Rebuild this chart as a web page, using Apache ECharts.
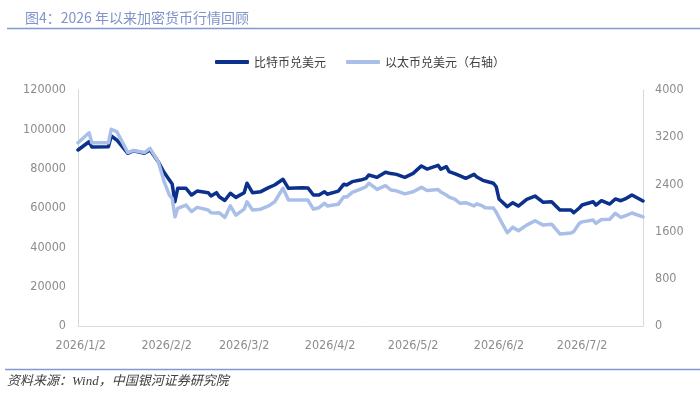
<!DOCTYPE html>
<html>
<head>
<meta charset="utf-8">
<script src="https://cdn.jsdelivr.net/npm/echarts@6/dist/echarts.min.js"></script>
<style>
  html, body { margin: 0; padding: 0; background: #fff; }
  #main { width: 700px; height: 401px; }
</style>
</head>
<body>
<div id="main"></div>
<script>
// 日期（每个点一个）
var dates = [
  '2026-01-01', '2026-01-05', '2026-01-06', '2026-01-12', '2026-01-13', '2026-01-15',
  '2026-01-19', '2026-01-21', '2026-01-25', '2026-01-27', '2026-01-30', '2026-02-01',
  '2026-02-03', '2026-02-04', '2026-02-05', '2026-02-06', '2026-02-09', '2026-02-11',
  '2026-02-13', '2026-02-17', '2026-02-18', '2026-02-20', '2026-02-21', '2026-02-23',
  '2026-02-25', '2026-02-27', '2026-03-02', '2026-03-03', '2026-03-05', '2026-03-08',
  '2026-03-11', '2026-03-13', '2026-03-16', '2026-03-18', '2026-03-23', '2026-03-25',
  '2026-03-27', '2026-03-29', '2026-03-31', '2026-04-01', '2026-04-05', '2026-04-07',
  '2026-04-08', '2026-04-10', '2026-04-13', '2026-04-15', '2026-04-16', '2026-04-19',
  '2026-04-22', '2026-04-24', '2026-04-26', '2026-04-29', '2026-05-02', '2026-05-05',
  '2026-05-07', '2026-05-11', '2026-05-12', '2026-05-14', '2026-05-15', '2026-05-17',
  '2026-05-19', '2026-05-21', '2026-05-24', '2026-05-25', '2026-05-27', '2026-05-28',
  '2026-05-31', '2026-06-01', '2026-06-02', '2026-06-05', '2026-06-07', '2026-06-09',
  '2026-06-12', '2026-06-15', '2026-06-18', '2026-06-21', '2026-06-24', '2026-06-28',
  '2026-06-29', '2026-07-01', '2026-07-02', '2026-07-06', '2026-07-07', '2026-07-09',
  '2026-07-12', '2026-07-14', '2026-07-16', '2026-07-18', '2026-07-20', '2026-07-24'
];

// 比特币兑美元（左轴）
var btc = [
  89500, 93700, 91000, 91200, 96600, 94600,
  87800, 89100, 87800, 89500, 83500, 78300,
  74200, 72200, 63200, 70000, 70000, 66600,
  68600, 67800, 66100, 67800, 65700, 63800,
  67500, 65400, 67800, 72600, 67800, 68300,
  70500, 71700, 74600, 70000, 70300, 70200,
  66600, 66600, 68300, 67000, 68600, 72100,
  71700, 73400, 74200, 75100, 76800, 75600,
  78200, 77500, 77100, 75600, 77600, 81400,
  79800, 81700, 79700, 81000, 78500, 77500,
  76300, 75100, 77100, 75800, 74200, 73700,
  72600, 70800, 64600, 60700, 62700, 61000,
  64400, 66100, 62900, 63200, 59000, 59000,
  57600, 60000, 61500, 63200, 61500, 63700,
  62000, 64600, 63700, 64900, 66600, 63600
];

// 以太币兑美元（右轴）
var eth = [
  3105, 3275, 3105, 3105, 3335, 3295,
  2940, 2975, 2940, 3010, 2785, 2460,
  2220, 2165, 1850, 1995, 2050, 1940,
  2010, 1965, 1920, 1915, 1920, 1840,
  2035, 1880, 1980, 2105, 1965, 1980,
  2040, 2105, 2335, 2135, 2135, 2135,
  1980, 2005, 2080, 2035, 2065, 2190,
  2185, 2265, 2320, 2360, 2420, 2315,
  2380, 2305, 2290, 2240, 2275, 2350,
  2295, 2315, 2270, 2220, 2185, 2150,
  2080, 2090, 2035, 2070, 2035, 2005,
  2000, 1930, 1840, 1580, 1675, 1615,
  1710, 1785, 1710, 1725, 1560, 1575,
  1600, 1740, 1765, 1795, 1740, 1805,
  1810, 1910, 1840, 1875, 1915, 1850
];

var xLabels = ['2026/1/2', '2026/2/2', '2026/3/2', '2026/4/2', '2026/5/2', '2026/6/2', '2026/7/2'];
var xStart = '2026-01-01';
var xEnd = '2026-07-24';
var leftTicks = [0, 20000, 40000, 60000, 80000, 100000, 120000];
var rightTicks = [0, 800, 1600, 2400, 3200, 4000];

// 日期 -> 距 xStart 的天数（x 轴用天数做数值轴）
function parseDay(s) {
  var p = s.split(/[\/-]/);
  return new Date(+p[0], +p[1] - 1, +p[2]);
}
var day0 = parseDay(xStart);
function dayIndex(s) {
  return Math.round((parseDay(s) - day0) / 86400000);
}
function plain(v) { return String(v); }

var labelFont = "'Liberation Sans Narrow', 'DejaVu Sans Condensed', sans-serif";
var cjkFont = "'Noto Sans CJK SC', sans-serif";
var axisGray = '#d9d9d9';
var labelGray = '#8c8c8c';

var chart = echarts.init(document.getElementById('main'));
chart.setOption({
  animation: false,
  title: {
    text: '图4：2026 年以来加密货币行情回顾',
    left: 20,
    top: 6,
    textStyle: { fontFamily: cjkFont, fontSize: 14, fontWeight: 'normal', color: '#7f93c8' }
  },
  graphic: [
    { type: 'line', shape: { x1: 7, y1: 28.5, x2: 700, y2: 28.5 }, style: { stroke: '#8199d0', lineWidth: 1.5 } },
    { type: 'line', shape: { x1: 5, y1: 369.5, x2: 700, y2: 369.5 }, style: { stroke: '#8199d0', lineWidth: 1.5 } },
    {
      type: 'text', left: 7, top: 375,
      style: {
        text: '资料来源：Wind，中国银河证券研究院',
        font: "italic 13px 'Liberation Serif', 'Noto Sans CJK SC', serif",
        fill: '#404040'
      }
    }
  ],
  legend: {
    left: 210,
    top: 51,
    icon: 'roundRect',
    itemWidth: 34,
    itemHeight: 4,
    itemGap: 20,
    textStyle: { fontFamily: cjkFont, fontSize: 12, color: '#404040' },
    data: ['比特币兑美元', '以太币兑美元（右轴）']
  },
  grid: { left: 78, right: 57, top: 90, bottom: 75 },
  xAxis: {
    type: 'value',
    min: 0,
    max: dayIndex(xEnd),
    splitLine: { show: false },
    axisTick: { show: false },
    axisLine: { show: true, lineStyle: { color: axisGray, width: 1 } },
    axisLabel: {
      customValues: xLabels.map(dayIndex),
      margin: 13,
      fontFamily: labelFont,
      fontSize: 12.5,
      color: labelGray,
      formatter: function (v) {
        var d = new Date(day0.getFullYear(), day0.getMonth(), day0.getDate() + v);
        return d.getFullYear() + '/' + (d.getMonth() + 1) + '/' + d.getDate();
      }
    }
  },
  yAxis: [
    {
      type: 'value',
      min: leftTicks[0],
      max: leftTicks[leftTicks.length - 1],
      interval: leftTicks[1] - leftTicks[0],
      splitLine: { show: false },
      axisTick: { show: false },
      axisLine: { show: true, lineStyle: { color: axisGray, width: 1 } },
      axisLabel: { margin: 12, fontFamily: labelFont, fontSize: 12.5, color: labelGray, formatter: plain }
    },
    {
      type: 'value',
      position: 'right',
      min: rightTicks[0],
      max: rightTicks[rightTicks.length - 1],
      interval: rightTicks[1] - rightTicks[0],
      splitLine: { show: false },
      axisTick: { show: false },
      axisLine: { show: true, lineStyle: { color: axisGray, width: 1 } },
      axisLabel: { margin: 12, fontFamily: labelFont, fontSize: 12.5, color: labelGray, formatter: plain }
    }
  ],
  series: [
    {
      name: '比特币兑美元',
      type: 'line',
      yAxisIndex: 0,
      symbol: 'none',
      color: '#0b318c',
      lineStyle: { width: 3.5, color: '#0b318c', cap: 'round', join: 'round' },
      data: dates.map(function (d, i) { return [dayIndex(d), btc[i]]; })
    },
    {
      name: '以太币兑美元（右轴）',
      type: 'line',
      yAxisIndex: 1,
      symbol: 'none',
      color: '#a9bfe8',
      lineStyle: { width: 3.5, color: '#a9bfe8', cap: 'round', join: 'round' },
      data: dates.map(function (d, i) { return [dayIndex(d), eth[i]]; })
    }
  ]
});
</script>
</body>
</html>
